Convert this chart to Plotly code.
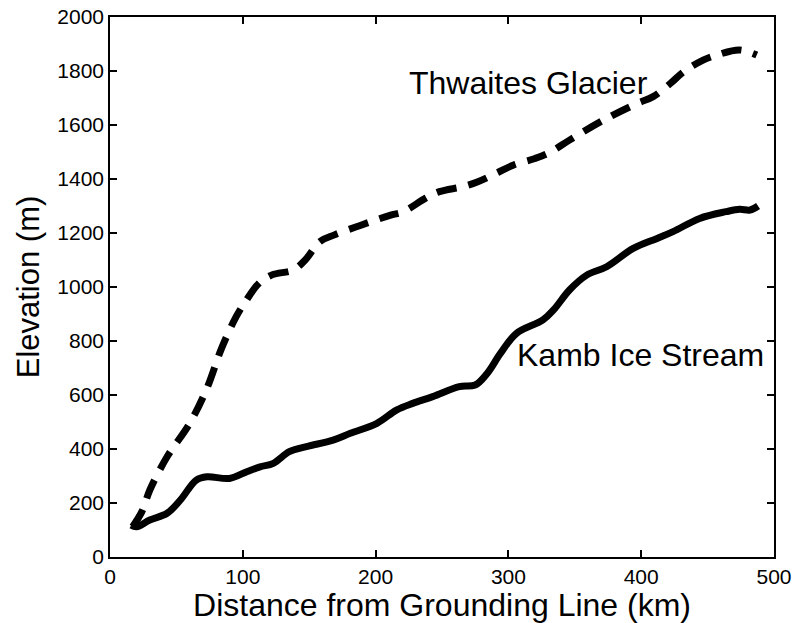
import plotly.graph_objects as go

# Kamb Ice Stream (solid)
kamb_km = [16, 20, 30, 43, 53, 65, 73, 90, 103, 113, 123, 135, 148, 168, 181, 201,
           216, 228, 243, 263, 275, 284, 294, 306, 326, 334, 346, 359, 374, 394,
           412, 424, 444, 464, 474, 482, 488]
kamb_elev = [118, 112, 137, 162, 211, 285, 297, 291, 316, 334, 347, 390, 409, 433, 458, 495,
             545, 569, 594, 631, 637, 680, 754, 828, 878, 915, 989, 1044, 1075, 1143,
             1180, 1205, 1254, 1279, 1288, 1285, 1300]

# Thwaites Glacier (dashed)
thw_km = [17, 24, 30, 43, 60, 73, 84, 95, 102, 112, 122, 138, 147, 158, 169, 185, 200,
          212, 221, 238, 248, 266, 277, 292, 304, 320, 331, 346, 372, 397, 409, 422,
          432, 447, 457, 474, 487]
thw_elev = [112, 168, 248, 371, 495, 625, 773, 890, 946, 1013, 1045, 1063, 1100, 1168, 1193,
            1222, 1248, 1267, 1279, 1330, 1353, 1372, 1390, 1424, 1452, 1476, 1498, 1544,
            1619, 1680, 1705, 1754, 1797, 1841, 1859, 1878, 1859]

x_ticks = [0, 100, 200, 300, 400, 500]
y_ticks = [0, 200, 400, 600, 800, 1000, 1200, 1400, 1600, 1800, 2000]

FONT = "Liberation Sans, Arial, sans-serif"

fig = go.Figure()
fig.add_trace(go.Scatter(x=thw_km, y=thw_elev, mode="lines", line_shape="spline",
                         line=dict(color="black", width=7, dash="20px,12px"),
                         name="Thwaites Glacier"))
fig.add_trace(go.Scatter(x=kamb_km, y=kamb_elev, mode="lines", line_shape="spline",
                         line=dict(color="black", width=7), name="Kamb Ice Stream"))

fig.add_annotation(x=223.6, y=1755, text="Thwaites Glacier", showarrow=False,
                   xanchor="left", yanchor="middle",
                   font=dict(family=FONT, size=32, color="black"))
fig.add_annotation(x=305, y=748, text="Kamb Ice Stream", showarrow=False,
                   xanchor="left", yanchor="middle",
                   font=dict(family=FONT, size=32, color="black"))

axis_common = dict(showgrid=False, zeroline=False, showline=True, linecolor="black",
                   linewidth=1.5, mirror="ticks", ticks="inside", ticklen=7,
                   tickwidth=1.5, tickcolor="black", automargin=False,
                   tickfont=dict(family=FONT, size=21, color="black"))

fig.update_xaxes(range=[0, 500], tickvals=x_ticks, ticktext=[str(v) for v in x_ticks],
                 title=dict(text="Distance from Grounding Line (km)", standoff=3,
                            font=dict(family=FONT, size=32, color="black")),
                 **axis_common)
fig.update_yaxes(range=[0, 2000], tickvals=y_ticks, ticktext=[str(v) for v in y_ticks],
                 title=dict(text="Elevation (m)", standoff=8,
                            font=dict(family=FONT, size=31, color="black")),
                 **axis_common)

fig.update_layout(width=792, height=623, showlegend=False,
                  plot_bgcolor="white", paper_bgcolor="white",
                  margin=dict(l=110, r=18, t=17, b=66))

fig.write_html("out.html")
